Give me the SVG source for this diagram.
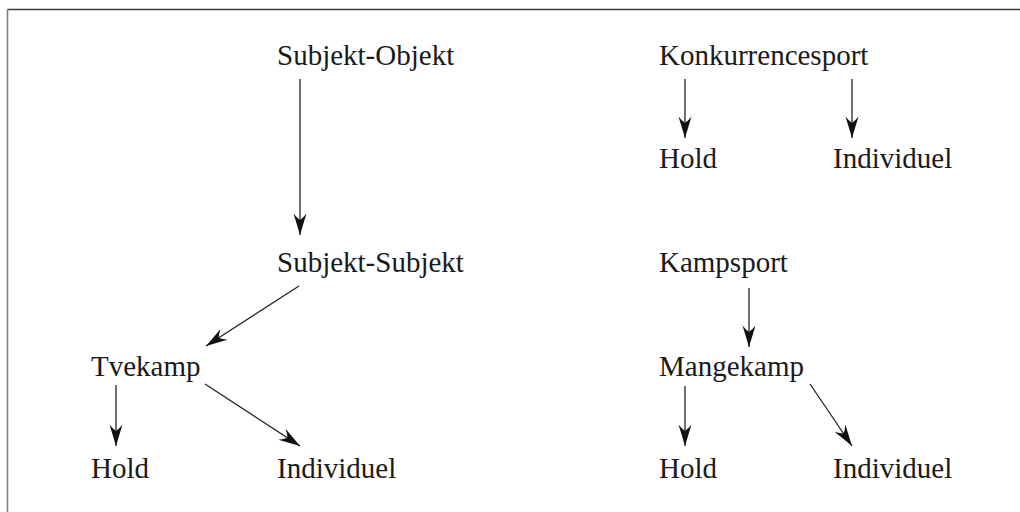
<svg xmlns="http://www.w3.org/2000/svg" width="1020" height="512" viewBox="0 0 1020 512">
<style>
.t{font-family:'Liberation Serif','Times New Roman',Times,serif;font-size:29px;fill:#1a1a1a}
.c{stroke:#222;stroke-width:1.3;fill:none}
</style>
<defs>
<marker id="ah" markerUnits="userSpaceOnUse" markerWidth="24" markerHeight="16" refX="22" refY="8" orient="auto">
<path d="M22,8 Q12,5 0.5,1.5 Q5,5 7,8 Q5,11 0.5,14.5 Q12,11 22,8 Z" fill="#111"/>
</marker>
</defs>
<rect width="1020" height="512" fill="#fff"/>
<g id="frame">
<line x1="7.5" y1="9.5" x2="1020" y2="9.5" stroke="#3a3a3a" stroke-width="1.6"/>
<line x1="7.5" y1="9" x2="7.5" y2="512" stroke="#808080" stroke-width="1.6"/>
</g>
<g id="connectors">
<line class="c" x1="300" y1="79" x2="300" y2="235" marker-end="url(#ah)"/>
<line class="c" x1="685" y1="79" x2="685" y2="138" marker-end="url(#ah)"/>
<line class="c" x1="852" y1="79" x2="852" y2="138" marker-end="url(#ah)"/>
<line class="c" x1="299" y1="286" x2="206" y2="346" marker-end="url(#ah)"/>
<line class="c" x1="749" y1="288" x2="749" y2="347" marker-end="url(#ah)"/>
<line class="c" x1="116" y1="385" x2="116" y2="446" marker-end="url(#ah)"/>
<line class="c" x1="205" y1="384" x2="300" y2="446" marker-end="url(#ah)"/>
<line class="c" x1="685" y1="386" x2="685" y2="446" marker-end="url(#ah)"/>
<line class="c" x1="810" y1="384" x2="852" y2="446" marker-end="url(#ah)"/>
</g>
<g id="subjekt-objekt"><text class="t" x="277" y="65">Subjekt-Objekt</text></g>
<g id="konkurrencesport"><text class="t" x="659" y="65">Konkurrencesport</text></g>
<g id="hold-1"><text class="t" x="659" y="168">Hold</text></g>
<g id="individuel-1"><text class="t" x="833" y="168">Individuel</text></g>
<g id="subjekt-subjekt"><text class="t" x="277" y="272">Subjekt-Subjekt</text></g>
<g id="kampsport"><text class="t" x="659" y="272">Kampsport</text></g>
<g id="tvekamp"><text class="t" x="91" y="376">Tvekamp</text></g>
<g id="mangekamp"><text class="t" x="659" y="376">Mangekamp</text></g>
<g id="hold-2"><text class="t" x="91" y="478">Hold</text></g>
<g id="individuel-2"><text class="t" x="277" y="478">Individuel</text></g>
<g id="hold-3"><text class="t" x="659" y="478">Hold</text></g>
<g id="individuel-3"><text class="t" x="833" y="478">Individuel</text></g>
</svg>
